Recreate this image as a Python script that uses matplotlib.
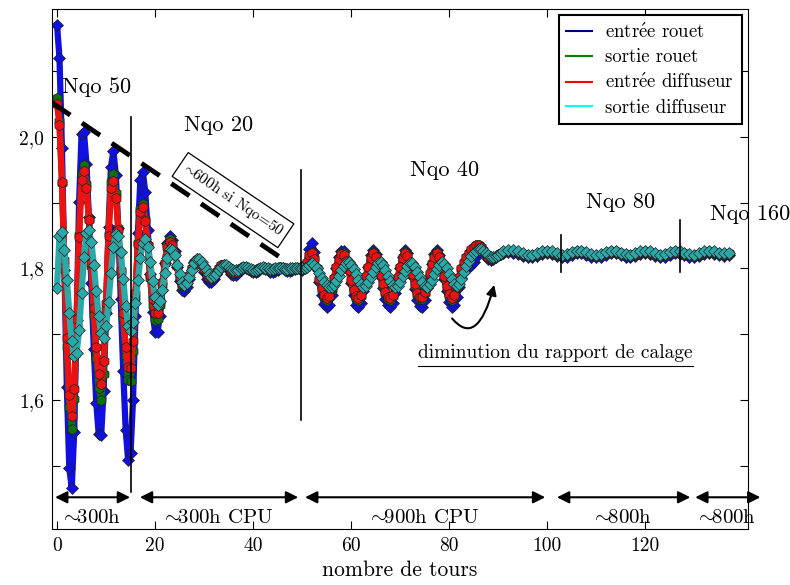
import numpy as np
import matplotlib
matplotlib.use('Agg')
from matplotlib import pyplot as plt
from matplotlib.lines import Line2D

plt.rcParams['font.family'] = ['cmr10', 'DejaVu Serif']
plt.rcParams['mathtext.fontset'] = 'cm'
plt.rcParams['axes.unicode_minus'] = False
plt.rcParams['axes.formatter.use_mathtext'] = True

# nombre de tours : pas de 0.5 jusqu'a 90.5 puis pas de 1
tours = np.concatenate([np.arange(0, 91, 0.5), np.arange(91, 138, 1.0)])

entree_rouet = [
    2.170, 2.120, 1.983, 1.798, 1.619, 1.496, 1.466, 1.551, 1.722, 1.901,
    2.004, 2.007, 1.959, 1.878, 1.778, 1.677, 1.596, 1.548, 1.546, 1.614,
    1.733, 1.863, 1.954, 1.979, 1.942, 1.861, 1.754, 1.644, 1.555, 1.509,
    1.520, 1.600, 1.728, 1.854, 1.935, 1.947, 1.916, 1.858, 1.791, 1.734,
    1.703, 1.704, 1.728, 1.767, 1.808, 1.839, 1.850, 1.844, 1.826, 1.803,
    1.781, 1.767, 1.766, 1.772, 1.784, 1.798, 1.810, 1.815, 1.813, 1.805,
    1.794, 1.784, 1.779, 1.779, 1.784, 1.792, 1.799, 1.804, 1.805, 1.802,
    1.797, 1.792, 1.790, 1.790, 1.793, 1.797, 1.800, 1.801, 1.799, 1.796,
    1.794, 1.794, 1.796, 1.799, 1.800, 1.799, 1.797, 1.795, 1.795, 1.796,
    1.798, 1.800, 1.800, 1.798, 1.796, 1.796, 1.797, 1.799, 1.800, 1.799,
    1.798, 1.800, 1.810, 1.830, 1.838, 1.825, 1.800, 1.780, 1.760, 1.746,
    1.741, 1.745, 1.760, 1.780, 1.800, 1.818, 1.827, 1.826, 1.815, 1.797,
    1.778, 1.759, 1.745, 1.741, 1.748, 1.765, 1.784, 1.803, 1.820, 1.828,
    1.822, 1.806, 1.788, 1.770, 1.754, 1.744, 1.741, 1.748, 1.763, 1.782,
    1.800, 1.818, 1.828, 1.823, 1.807, 1.788, 1.769, 1.752, 1.743, 1.742,
    1.752, 1.770, 1.789, 1.807, 1.822, 1.828, 1.820, 1.803, 1.784, 1.765,
    1.749, 1.741, 1.745, 1.757, 1.772, 1.785, 1.795, 1.800, 1.803, 1.805,
    1.810, 1.818, 1.825, 1.828, 1.826, 1.820, 1.815, 1.813, 1.814, 1.817,
    1.820, 1.822,
    1.823, 1.825, 1.824, 1.822, 1.819, 1.817, 1.817, 1.819, 1.822, 1.823,
    1.822, 1.819, 1.817, 1.818, 1.821, 1.823, 1.823, 1.821, 1.818, 1.817,
    1.818, 1.821, 1.823, 1.823, 1.820, 1.818, 1.817, 1.819, 1.822, 1.823,
    1.822, 1.819, 1.817, 1.818, 1.821, 1.823, 1.822, 1.820, 1.818, 1.817,
    1.819, 1.822, 1.823, 1.822, 1.820, 1.819, 1.820,
]

sortie_rouet = [
    2.060, 2.025, 1.930, 1.805, 1.680, 1.590, 1.556, 1.601, 1.716, 1.851,
    1.944, 1.958, 1.929, 1.876, 1.804, 1.729, 1.664, 1.618, 1.600, 1.640,
    1.739, 1.852, 1.931, 1.943, 1.915, 1.862, 1.794, 1.724, 1.667, 1.631,
    1.629, 1.675, 1.755, 1.838, 1.891, 1.898, 1.875, 1.835, 1.786, 1.745,
    1.722, 1.723, 1.744, 1.775, 1.809, 1.835, 1.845, 1.839, 1.824, 1.804,
    1.785, 1.774, 1.773, 1.778, 1.788, 1.800, 1.810, 1.814, 1.812, 1.806,
    1.798, 1.791, 1.786, 1.784, 1.788, 1.794, 1.800, 1.805, 1.806, 1.804,
    1.799, 1.795, 1.793, 1.794, 1.797, 1.800, 1.802, 1.802, 1.800, 1.798,
    1.796, 1.796, 1.798, 1.800, 1.801, 1.800, 1.798, 1.797, 1.797, 1.798,
    1.800, 1.801, 1.800, 1.799, 1.798, 1.798, 1.799, 1.800, 1.800, 1.799,
    1.799, 1.801, 1.809, 1.821, 1.825, 1.816, 1.800, 1.783, 1.768, 1.756,
    1.752, 1.756, 1.768, 1.785, 1.802, 1.816, 1.824, 1.823, 1.813, 1.798,
    1.781, 1.765, 1.755, 1.752, 1.758, 1.771, 1.787, 1.803, 1.817, 1.825,
    1.819, 1.805, 1.789, 1.774, 1.762, 1.754, 1.752, 1.758, 1.770, 1.786,
    1.802, 1.817, 1.825, 1.820, 1.806, 1.790, 1.774, 1.760, 1.753, 1.754,
    1.762, 1.777, 1.792, 1.808, 1.819, 1.825, 1.818, 1.803, 1.787, 1.771,
    1.758, 1.752, 1.756, 1.770, 1.785, 1.799, 1.809, 1.817, 1.823, 1.828,
    1.832, 1.835, 1.835, 1.832, 1.827, 1.821, 1.817, 1.815, 1.815, 1.817,
    1.820, 1.822,
    1.824, 1.826, 1.826, 1.824, 1.821, 1.819, 1.819, 1.821, 1.824, 1.825,
    1.824, 1.821, 1.819, 1.820, 1.823, 1.825, 1.825, 1.823, 1.820, 1.819,
    1.820, 1.823, 1.825, 1.825, 1.822, 1.820, 1.819, 1.821, 1.824, 1.825,
    1.824, 1.821, 1.819, 1.820, 1.823, 1.825, 1.824, 1.822, 1.820, 1.819,
    1.821, 1.824, 1.825, 1.824, 1.822, 1.821, 1.822,
]

entree_diffuseur = [
    2.050, 2.018, 1.931, 1.813, 1.694, 1.607, 1.575, 1.617, 1.723, 1.848,
    1.935, 1.948, 1.922, 1.874, 1.808, 1.740, 1.680, 1.639, 1.625, 1.659,
    1.748, 1.850, 1.922, 1.933, 1.907, 1.859, 1.797, 1.733, 1.681, 1.650,
    1.649, 1.690, 1.762, 1.837, 1.886, 1.893, 1.872, 1.835, 1.790, 1.753,
    1.732, 1.733, 1.751, 1.779, 1.809, 1.832, 1.840, 1.835, 1.822, 1.804,
    1.787, 1.777, 1.776, 1.781, 1.790, 1.800, 1.809, 1.813, 1.811, 1.806,
    1.799, 1.792, 1.787, 1.785, 1.789, 1.795, 1.801, 1.805, 1.806, 1.804,
    1.800, 1.796, 1.794, 1.795, 1.798, 1.801, 1.803, 1.803, 1.801, 1.798,
    1.797, 1.797, 1.799, 1.801, 1.802, 1.801, 1.799, 1.798, 1.798, 1.799,
    1.801, 1.802, 1.801, 1.800, 1.799, 1.799, 1.800, 1.801, 1.801, 1.800,
    1.800, 1.802, 1.810, 1.820, 1.823, 1.815, 1.800, 1.784, 1.770, 1.759,
    1.755, 1.758, 1.770, 1.786, 1.802, 1.815, 1.822, 1.821, 1.812, 1.798,
    1.782, 1.767, 1.758, 1.755, 1.760, 1.773, 1.788, 1.803, 1.816, 1.823,
    1.818, 1.805, 1.790, 1.776, 1.764, 1.757, 1.755, 1.760, 1.772, 1.787,
    1.802, 1.816, 1.823, 1.819, 1.806, 1.791, 1.776, 1.763, 1.756, 1.756,
    1.764, 1.778, 1.793, 1.807, 1.818, 1.823, 1.817, 1.803, 1.788, 1.773,
    1.761, 1.755, 1.759, 1.772, 1.787, 1.800, 1.810, 1.818, 1.824, 1.829,
    1.833, 1.836, 1.836, 1.833, 1.828, 1.822, 1.818, 1.816, 1.816, 1.818,
    1.821, 1.823,
    1.825, 1.827, 1.827, 1.825, 1.822, 1.820, 1.820, 1.822, 1.825, 1.826,
    1.825, 1.822, 1.820, 1.821, 1.824, 1.826, 1.826, 1.824, 1.821, 1.820,
    1.821, 1.824, 1.826, 1.826, 1.823, 1.821, 1.820, 1.822, 1.825, 1.826,
    1.825, 1.822, 1.820, 1.821, 1.824, 1.826, 1.825, 1.823, 1.821, 1.820,
    1.822, 1.825, 1.826, 1.825, 1.823, 1.822, 1.823,
]

sortie_diffuseur = [
    1.770, 1.850, 1.855, 1.828, 1.783, 1.732, 1.690, 1.667, 1.671, 1.707,
    1.763, 1.818, 1.854, 1.858, 1.840, 1.806, 1.765, 1.727, 1.702, 1.695,
    1.712, 1.749, 1.793, 1.832, 1.853, 1.850, 1.825, 1.784, 1.743, 1.713,
    1.705, 1.718, 1.747, 1.782, 1.816, 1.839, 1.845, 1.833, 1.810, 1.781,
    1.757, 1.745, 1.750, 1.768, 1.793, 1.816, 1.829, 1.828, 1.820, 1.806,
    1.791, 1.779, 1.775, 1.778, 1.787, 1.798, 1.809, 1.814, 1.814, 1.810,
    1.804, 1.797, 1.791, 1.787, 1.788, 1.792, 1.797, 1.802, 1.805, 1.805,
    1.802, 1.799, 1.797, 1.797, 1.798, 1.800, 1.802, 1.802, 1.801, 1.799,
    1.798, 1.798, 1.799, 1.801, 1.802, 1.801, 1.800, 1.799, 1.799, 1.800,
    1.801, 1.801, 1.800, 1.799, 1.799, 1.800, 1.801, 1.801, 1.800, 1.800,
    1.800, 1.800, 1.802, 1.806, 1.808, 1.806, 1.800, 1.793, 1.786, 1.779,
    1.775, 1.772, 1.772, 1.775, 1.781, 1.789, 1.797, 1.804, 1.809, 1.810,
    1.806, 1.799, 1.791, 1.783, 1.776, 1.772, 1.773, 1.779, 1.787, 1.795,
    1.803, 1.809, 1.810, 1.805, 1.797, 1.789, 1.781, 1.775, 1.772, 1.774,
    1.780, 1.788, 1.796, 1.804, 1.809, 1.809, 1.803, 1.795, 1.787, 1.779,
    1.774, 1.772, 1.776, 1.783, 1.791, 1.799, 1.806, 1.810, 1.807, 1.800,
    1.792, 1.784, 1.777, 1.773, 1.776, 1.784, 1.794, 1.804, 1.812, 1.819,
    1.824, 1.827, 1.829, 1.829, 1.827, 1.823, 1.820, 1.818, 1.818, 1.819,
    1.821, 1.823,
    1.826, 1.828, 1.828, 1.826, 1.823, 1.821, 1.821, 1.823, 1.826, 1.827,
    1.826, 1.823, 1.821, 1.822, 1.825, 1.827, 1.827, 1.825, 1.822, 1.821,
    1.822, 1.825, 1.827, 1.827, 1.824, 1.822, 1.821, 1.823, 1.826, 1.827,
    1.826, 1.823, 1.821, 1.822, 1.825, 1.827, 1.826, 1.824, 1.822, 1.821,
    1.823, 1.826, 1.827, 1.826, 1.824, 1.823, 1.824,
]

noms = [r'entr$\acute{\mathrm{e}}$e rouet', 'sortie rouet',
        r'entr$\acute{\mathrm{e}}$e diffuseur', 'sortie diffuseur']
couleurs_leg = ['#000080', '#008000', '#ff0000', '#00ffff']

TILDE = r'$\!\!\sim\!\!$'

fig = plt.figure(figsize=(7.9, 5.85), dpi=100)
ax = fig.add_axes([0.066, 0.096, 0.881, 0.889])

series = [
    (entree_rouet, '#1010e0', 'D', 6.5),
    (sortie_rouet, '#107010', 'h', 7.5),
    (entree_diffuseur, '#ee1111', 'h', 7.5),
    (sortie_diffuseur, '#2aa9a9', 'D', 6.5),
]
for vals, c, m, ms in series:
    ax.plot(tours, vals, color=c, lw=4.5, marker=m, ms=ms, mfc=c,
            mec='#202020', mew=0.5, solid_joinstyle='round')

ax.set_xlim(-1, 141)
ax.set_ylim(1.404, 2.195)
ax.set_xticks([0, 20, 40, 60, 80, 100, 120])
ax.set_xticklabels(['0', '20', '40', '60', '80', '100', '120'])
yt = [1.5, 1.6, 1.7, 1.8, 1.9, 2.0, 2.1]
ax.set_yticks(yt)
ax.set_yticklabels(['', '1,6', '', '1,8', '', '2,0', ''])
ax.tick_params(direction='in', top=True, right=True, length=6, width=0.8,
               labelsize=14, pad=6)
ax.set_xlabel('nombre de tours', fontsize=15.5, labelpad=4)

# separations entre les phases
ax.plot([15.1, 15.1], [1.46, 2.03], color='k', lw=1.2)
ax.plot([49.8, 49.8], [1.57, 1.95], color='k', lw=1.2)
ax.plot([102.9, 102.9], [1.795, 1.851], color='k', lw=1.2)
ax.plot([127.1, 127.1], [1.795, 1.874], color='k', lw=1.2)

# enveloppe extrapolee
ax.plot([-1, 46.9], [2.052, 1.81], color='k', lw=3.5,
        ls=(0, (4.5, 2.9)), solid_capstyle='butt', dash_capstyle='butt')
ax.text(35.9, 1.904, TILDE + '600h si Nqo=50', rotation=-34,
        rotation_mode='anchor', ha='center', va='center', fontsize=11,
        bbox=dict(boxstyle='square,pad=0.35', fc='white', ec='k', lw=0.9))

ax.text(1, 2.076, 'Nqo 50', fontsize=16, va='center')
ax.text(33, 2.018, 'Nqo 20', fontsize=16, ha='center', va='center')
ax.text(79, 1.95, 'Nqo 40', fontsize=16, ha='center', va='center')
ax.text(115, 1.90, 'Nqo 80', fontsize=16, ha='center', va='center')
ax.text(133.3, 1.882, 'Nqo 160', fontsize=16, va='center', clip_on=False)

# duree de calcul
fleches = [(-0.4, 14.9, '300h'), (16.9, 49.2, '300h CPU'),
           (50.6, 99.6, '900h CPU'), (102.0, 129.2, '800h'),
           (130.2, 143.5, '800h')]
for x0, x1, lab in fleches:
    ax.annotate('', xy=(x1, 1.452), xytext=(x0, 1.452), annotation_clip=False,
                arrowprops=dict(arrowstyle='<|-|>', color='k', lw=1.5,
                                mutation_scale=18, shrinkA=0, shrinkB=0))
    ax.text((x0 + x1) / 2, 1.421, TILDE + lab, fontsize=15, ha='center',
            va='center', clip_on=False)

ax.annotate('', xy=(89.2, 1.775), xytext=(80.6, 1.724),
            arrowprops=dict(arrowstyle='-|>', color='k', lw=1.5,
                            mutation_scale=15, shrinkA=0, shrinkB=0,
                            connectionstyle='angle3,angleA=-50,angleB=75'))
ax.text(101.7, 1.672, 'diminution du rapport de calage', fontsize=14,
        ha='center', va='center')
ax.plot([73.7, 129.8], [1.652, 1.652], color='k', lw=0.8)

handles = [Line2D([], [], color=c, lw=1.5) for c in couleurs_leg]
leg = ax.legend(handles, noms, loc='upper right', fontsize=13.5,
                handlelength=1.4, handletextpad=0.7, labelspacing=0.35,
                borderaxespad=0.35, fancybox=False, framealpha=1)
leg.get_frame().set_edgecolor('k')
leg.get_frame().set_linewidth(1.5)

fig.savefig('out.png', dpi=100)
